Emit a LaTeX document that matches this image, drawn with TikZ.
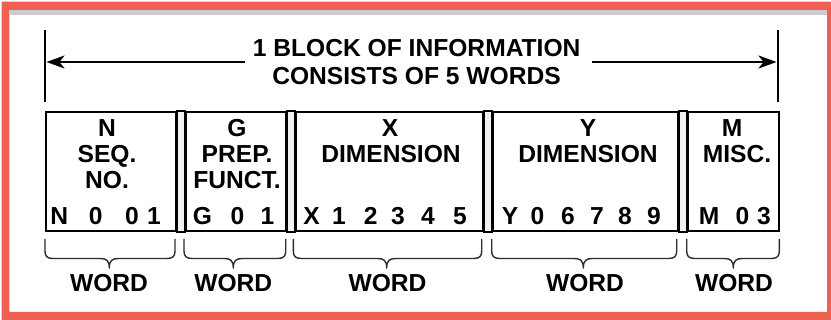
\documentclass[tikz,border=0pt]{standalone}
\usepackage{fontspec}
\setmainfont{Liberation Sans}
\usetikzlibrary{arrows.meta}
\definecolor{framered}{RGB}{238,96,80}
\definecolor{bandgray}{RGB}{204,204,204}
\definecolor{gapfill}{RGB}{242,242,242}
\definecolor{bracegray}{RGB}{45,45,45}
\begin{document}
\begin{tikzpicture}[x=1pt,y=-1pt,
  lbl/.style={anchor=base,inner sep=0pt,font=\fontsize{24.6}{26}\selectfont\bfseries},
  cell/.style={draw,line width=2pt,inner sep=0pt,anchor=north west,minimum height=119pt},
  gapbox/.style={draw,line width=2pt,fill=gapfill},
  endline/.style={line width=2pt},
  dimarrow/.style={line width=2.4pt,-{Stealth[length=18pt,width=13pt,inset=5pt]}},
  brc/.style={line width=1.4pt,bracegray,line join=round}]
\useasboundingbox (0,0) rectangle (831,320);
\fill[white] (0,0) rectangle (831,320);
\fill[framered,even odd rule] (1.7,1.7) rectangle (831,320) (9.3,10) rectangle (827,312);
\fill[bandgray] (9.3,10) rectangle (827,15);

% title and dimension line
\node[lbl] (t1) at (416.7,56.7) {1 BLOCK OF INFORMATION};
\node[lbl] (t2) at (416.5,85) {CONSISTS OF 5 WORDS};
\draw[endline] (45,30) -- (45,101.7);
\draw[endline] (778,30) -- (778,101.7);
\coordinate (aL) at (245,62);
\coordinate (tL) at (46.5,62);
\coordinate (aR) at (592,62);
\coordinate (tR) at (776.5,62);
\draw[dimarrow] (aL) -- (tL);
\draw[dimarrow] (aR) -- (tR);

% word boxes
\node[cell,minimum width=130pt] (b1) at (45,111) {};
\node[cell,minimum width=100pt] (b2) at (185,111) {};
\node[cell,minimum width=186.7pt] (b3) at (295,111) {};
\node[cell,minimum width=185.3pt] (b4) at (491.7,111) {};
\node[cell,minimum width=91pt] (b5) at (687,111) {};
\draw[gapbox] (b1.north east) rectangle (b2.south west);
\draw[gapbox] (b2.north east) rectangle (b3.south west);
\draw[gapbox] (b3.north east) rectangle (b4.south west);
\draw[gapbox] (b4.north east) rectangle (b5.south west);

% headers
\node[lbl] (h1a) at (107,136.5) {N};
\node[lbl] (h1b) at (107,162.5) {SEQ.};
\node[lbl] (h1c) at (107,188.5) {NO.};
\node[lbl] (h2a) at (237,136.5) {G};
\node[lbl] (h2b) at (237,163) {PREP.};
\node[lbl] (h2c) at (237,188.5) {FUNCT.};
\node[lbl] (h3a) at (390,136.5) {X};
\node[lbl] (h3b) at (391,163) {DIMENSION};
\node[lbl] (h4a) at (588,136.5) {Y};
\node[lbl] (h4b) at (588,163) {DIMENSION};
\node[lbl] (h5a) at (732,136.5) {M};
\node[lbl] (h5b) at (737,163) {MISC.};

% codes
\foreach \c/\x [count=\i] in {N/59.3,0/95.8,0/132,1/154,
    G/202.5,0/237.5,1/267.5,
    X/311.7,1/339,2/370.7,3/398,4/428,5/460,
    Y/510,0/537.5,6/568,7/597,8/625,9/654,
    M/709,0/742.5,3/764}
  \node[lbl] (c\i) at (\x,224.5) {\c};

% braces and WORD labels
\foreach \a/\m/\b [count=\i] in {45/109.3/175,184/233.3/285.7,293.3/386.7/481.7,491.7/583.3/676.7,686.7/733.3/779.3}{
  \draw[brc] (\a,239) -- (\a,251) .. controls (\a,256) and (\a+2,258.5) .. (\a+8,258.5)
    -- (\m-9,258.5) .. controls (\m-3,258.5) and (\m,260.5) .. (\m,268)
    .. controls (\m,260.5) and (\m+3,258.5) .. (\m+9,258.5)
    -- (\b-8,258.5) .. controls (\b-2,258.5) and (\b,256) .. (\b,251) -- (\b,239);
}
\node[lbl] (w1) at (109,291.5) {WORD};
\node[lbl] (w2) at (233.3,291.5) {WORD};
\node[lbl] (w3) at (387.5,291.5) {WORD};
\node[lbl] (w4) at (585,291.5) {WORD};
\node[lbl] (w5) at (734,291.5) {WORD};
\end{tikzpicture}
\end{document}
